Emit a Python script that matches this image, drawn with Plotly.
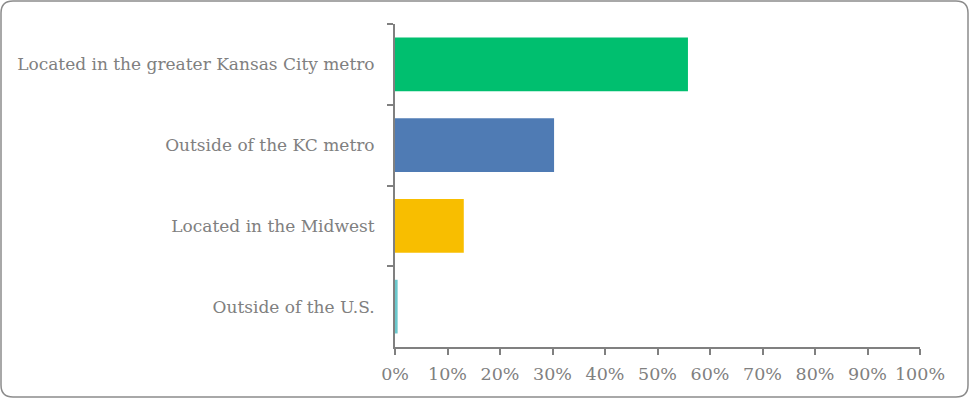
import plotly.graph_objects as go

categories = [
    "Located in the greater Kansas City metro",
    "Outside of the KC metro",
    "Located in the Midwest",
    "Outside of the U.S.",
]
values = [0.558, 0.303, 0.131, 0.005]
colors = ["#00BF6F", "#4F7BB4", "#F8BE00", "#6BC8CC"]
tick_vals = [i / 10 for i in range(11)]
tick_text = [f"{i * 10}%" for i in range(11)]

W, H = 971, 399
L, R, T, B = 395, 51, 24, 52
pw, ph = W - L - R, H - T - B

fig = go.Figure(
    go.Bar(
        y=categories,
        x=values,
        orientation="h",
        marker=dict(color=colors, line=dict(width=0)),
        width=0.665,
        hoverinfo="skip",
    )
)

def px(x):
    return (x - L) / pw

def py(y):
    return 1 - (y - T) / ph

# rounded border around whole chart
x0, y0, x1, y1, r = 1, 1, 968, 397, 12
path = (
    f"M {px(x0 + r)},{py(y0)} L {px(x1 - r)},{py(y0)} "
    f"Q {px(x1)},{py(y0)} {px(x1)},{py(y0 + r)} "
    f"L {px(x1)},{py(y1 - r)} Q {px(x1)},{py(y1)} {px(x1 - r)},{py(y1)} "
    f"L {px(x0 + r)},{py(y1)} Q {px(x0)},{py(y1)} {px(x0)},{py(y1 - r)} "
    f"L {px(x0)},{py(y0 + r)} Q {px(x0)},{py(y0)} {px(x0 + r)},{py(y0)} Z"
)

fig.add_shape(
    type="path",
    path=path,
    xref="paper",
    yref="paper",
    line=dict(color="#8C8C8C", width=1.5),
    layer="above",
)

font_fam = "DejaVu Serif, Liberation Serif, serif"

fig.update_layout(
    width=W,
    height=H,
    margin=dict(l=L, r=R, t=T, b=B, pad=0),
    paper_bgcolor="white",
    plot_bgcolor="white",
    showlegend=False,
    font=dict(family=font_fam, color="#808080", size=17),
    xaxis=dict(
        range=[0, 1],
        tickvals=tick_vals,
        ticktext=tick_text,
        ticks="outside",
        ticklen=6,
        tickwidth=2,
        tickcolor="#808080",
        showline=True,
        linecolor="#808080",
        linewidth=2,
        showgrid=False,
        zeroline=False,
        ticklabelstandoff=4,
        tickfont=dict(size=17.5, color="#808080"),
        fixedrange=True,
    ),
    yaxis=dict(
        autorange="reversed",
        type="category",
        tickson="boundaries",
        ticks="outside",
        ticklen=6,
        tickwidth=2,
        tickcolor="#808080",
        showline=True,
        linecolor="#808080",
        linewidth=2,
        showgrid=False,
        zeroline=False,
        ticklabelstandoff=15,
        tickfont=dict(size=17, color="#808080"),
        fixedrange=True,
    ),
)

fig.write_html(
    "out.html",
    config={"displayModeBar": False},
    post_script="document.body.style.margin='0';document.body.style.padding='0';document.body.style.overflow='hidden';",
)
